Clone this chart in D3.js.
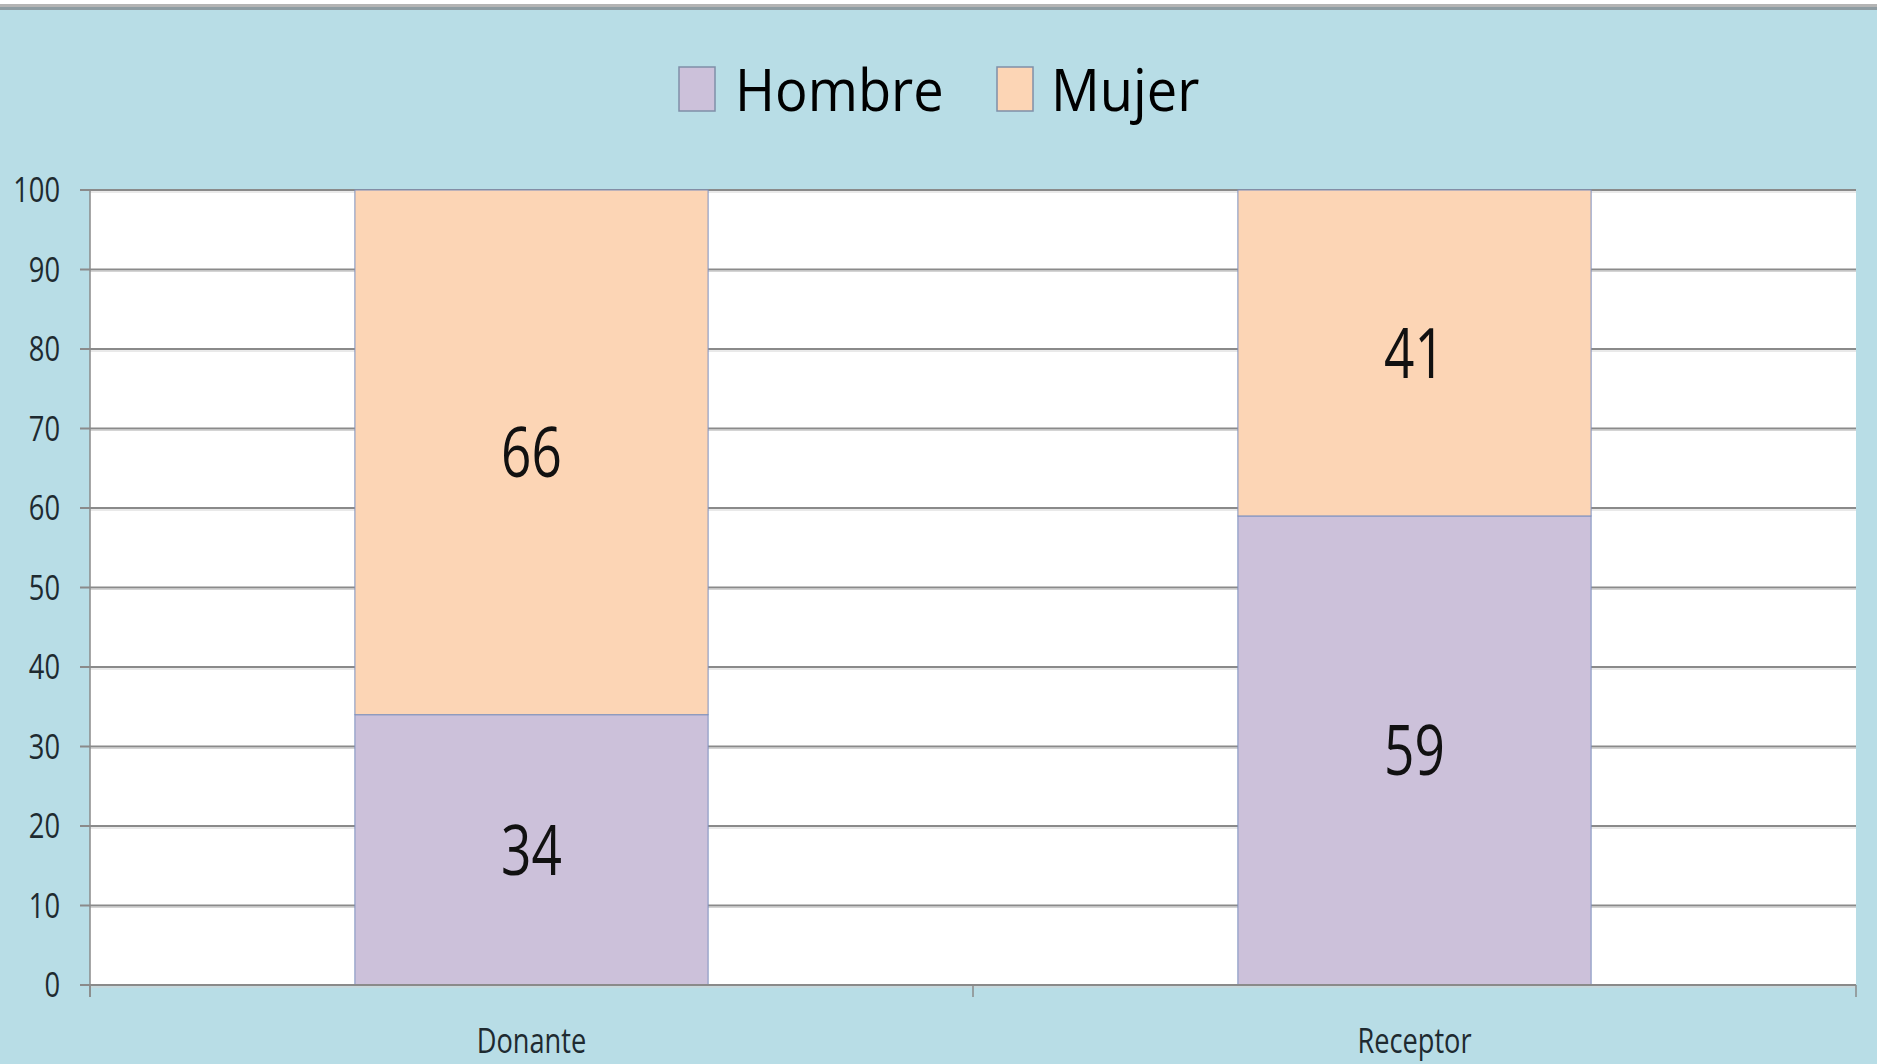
<!DOCTYPE html>
<html>
<head>
<meta charset="utf-8">
<script src="https://cdn.jsdelivr.net/npm/d3@7"></script>
<style>
  html, body { margin: 0; padding: 0; background: #ffffff; }
  svg { display: block; }
  text { font-family: "Open Sans", "Noto Sans", sans-serif; }
</style>
</head>
<body>
<svg id="chart" width="1877" height="1064"></svg>
<script>
// ---- data ----
const categories = ["Donante", "Receptor"];
const seriesNames = ["Hombre", "Mujer"];
const hombre = [34, 59];
const mujer = [66, 41];
const yTicks = [0, 10, 20, 30, 40, 50, 60, 70, 80, 90, 100];

// ---- layout ----
const W = 1877, H = 1064;
const plot = { left: 90, right: 1856, top: 190, bottom: 985 };
const colors = { Hombre: "#ccc1da", Mujer: "#fcd5b5" };
const bg = "#b8dde6";

const svg = d3.select("#chart");

svg.append("rect").attr("x", 0).attr("y", 0).attr("width", W).attr("height", H).attr("fill", "#ffffff");
svg.append("rect").attr("x", 0).attr("y", 7).attr("width", W).attr("height", H - 7).attr("fill", bg);
svg.append("rect").attr("x", 0).attr("y", 4).attr("width", W).attr("height", 3).attr("fill", "#b4b4b4");
svg.append("rect").attr("x", 0).attr("y", 7).attr("width", W).attr("height", 3).attr("fill", "#8e9ca2");

const x = d3.scaleBand().domain(categories).range([plot.left, plot.right])
  .paddingInner(0.6).paddingOuter(0.3);
const xOuter = d3.scaleBand().domain(categories).range([plot.left, plot.right]);
const y = d3.scaleLinear().domain([0, 100]).range([plot.bottom, plot.top]);

// plot area
svg.append("rect")
  .attr("x", plot.left).attr("y", plot.top)
  .attr("width", plot.right - plot.left).attr("height", plot.bottom - plot.top)
  .attr("fill", "#ffffff");

// gridlines + y ticks
const gy = svg.append("g");
gy.selectAll("line.grid").data(yTicks).join("line")
  .attr("class", "grid")
  .attr("x1", plot.left - 10).attr("x2", plot.right)
  .attr("y1", d => y(d)).attr("y2", d => y(d))
  .attr("stroke", "#8a8a8a").attr("stroke-width", 2);
gy.selectAll("line.shadow").data(yTicks).join("line")
  .attr("class", "shadow")
  .attr("x1", plot.left).attr("x2", plot.right)
  .attr("y1", d => y(d) + 2).attr("y2", d => y(d) + 2)
  .attr("stroke", "#d4d4d4").attr("stroke-width", 1);

gy.selectAll("text").data(yTicks).join("text")
  .attr("transform", d => `translate(60,${y(d) + 12}) scale(0.78,1)`)
  .attr("text-anchor", "end")
  .attr("font-size", 35)
  .attr("fill", "#1e2a30")
  .text(d => d);

// y axis line
svg.append("line")
  .attr("x1", plot.left).attr("x2", plot.left)
  .attr("y1", plot.top).attr("y2", plot.bottom + 12)
  .attr("stroke", "#8a8a8a").attr("stroke-width", 1.5);

// x category ticks
const xTickPos = [plot.left, ...categories.map(c => xOuter(c) + xOuter.bandwidth())];
svg.selectAll("line.xtick").data(xTickPos).join("line")
  .attr("class", "xtick")
  .attr("x1", d => d).attr("x2", d => d)
  .attr("y1", plot.bottom).attr("y2", plot.bottom + 12)
  .attr("stroke", "#8a8a8a").attr("stroke-width", 1.5);

// stacked bars
const rows = categories.map((c, i) => ({ cat: c, Hombre: hombre[i], Mujer: mujer[i] }));
const stack = d3.stack().keys(seriesNames)(rows);

const layers = svg.append("g").selectAll("g").data(stack).join("g")
  .attr("fill", d => colors[d.key]);
layers.selectAll("rect").data(d => d).join("rect")
  .attr("x", d => x(d.data.cat))
  .attr("width", x.bandwidth())
  .attr("y", d => y(d[1]))
  .attr("height", d => y(d[0]) - y(d[1]))
  .attr("stroke", "#7d90bf")
  .attr("stroke-width", 1);

// data labels
layers.selectAll("text").data(d => d.map(v => ({ v, key: d.key }))).join("text")
  .attr("transform", d => `translate(${x(d.v.data.cat) + x.bandwidth() / 2},${y((d.v[0] + d.v[1]) / 2) + 25}) scale(0.76,1)`)
  .attr("text-anchor", "middle")
  .attr("font-size", 70)
  .attr("fill", "#111111")
  .text(d => d.v.data[d.key]);

// re-draw zero axis line on top
svg.append("line")
  .attr("x1", plot.left - 10).attr("x2", plot.right)
  .attr("y1", plot.bottom).attr("y2", plot.bottom)
  .attr("stroke", "#8a8a8a").attr("stroke-width", 2);

// category labels
svg.selectAll("text.cat").data(categories).join("text")
  .attr("class", "cat")
  .attr("transform", d => `translate(${xOuter(d) + xOuter.bandwidth() / 2},1053) scale(0.8,1)`)
  .attr("text-anchor", "middle")
  .attr("font-size", 34)
  .attr("fill", "#1e2a30")
  .text(d => d);

// legend
const legendItems = [
  { name: "Hombre", sx: 679, tx: 735 },
  { name: "Mujer", sx: 997, tx: 1051 }
];
const lg = svg.append("g");
lg.selectAll("rect").data(legendItems).join("rect")
  .attr("x", d => d.sx).attr("y", 67)
  .attr("width", 36).attr("height", 44)
  .attr("fill", d => colors[d.name])
  .attr("stroke", "#7f8fa8").attr("stroke-width", 1.5);
lg.selectAll("text").data(legendItems).join("text")
  .attr("transform", d => `translate(${d.tx},111) scale(0.92,1)`)
  .attr("font-size", 59)
  .attr("fill", "#000000")
  .text(d => d.name);
</script>
</body>
</html>
